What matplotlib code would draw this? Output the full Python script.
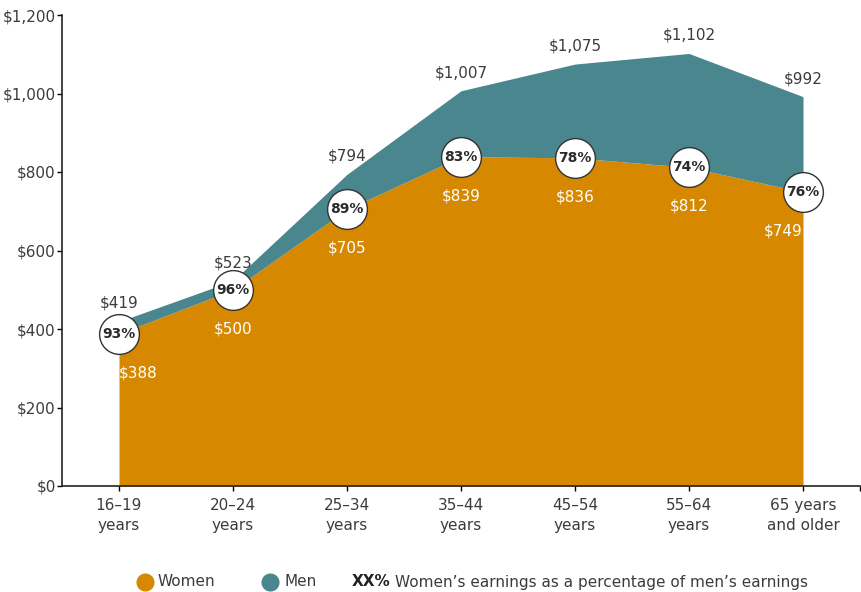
#!/usr/bin/env python

import matplotlib
matplotlib.use('Agg')
import matplotlib.pyplot as plt
import matplotlib.ticker as plticker
from matplotlib.lines import Line2D

AGE_GROUPS  = ['16–19\nyears', '20–24\nyears', '25–34\nyears', '35–44\nyears',
               '45–54\nyears', '55–64\nyears', '65 years\nand older']
WOMEN       = [388, 500, 705, 839, 836, 812, 749]
MEN         = [419, 523, 794, 1007, 1075, 1102, 992]
PERCENTS    = [93, 96, 89, 83, 78, 74, 76]
Y_TICKS     = [0, 200, 400, 600, 800, 1000, 1200]

WOMEN_COLOR = '#D68800'
MEN_COLOR   = '#4A868E'
TEXT_COLOR  = '#3c3c3c'
FONT_SIZE   = 11

plt.rcParams['font.family'] = ['DejaVu Sans']

figure = plt.figure(figsize=(8.62, 5.92), dpi=100)
ax = figure.add_axes([62 / 862, 1 - 486 / 592, 798 / 862, 471 / 592])

x = list(range(len(AGE_GROUPS)))

ax.fill_between(x, 0, WOMEN, color=WOMEN_COLOR, linewidth=0, zorder=1)
ax.fill_between(x, WOMEN, MEN, color=MEN_COLOR, linewidth=0, zorder=1)

# percentage bubbles sitting on the women's line
ax.scatter(x, WOMEN, s=820, facecolor='white', edgecolor='#333333', linewidth=1.0, zorder=3)
for xi, yi, pct in zip(x, WOMEN, PERCENTS):
    ax.text(xi, yi, '{}%'.format(pct), ha='center', va='center', fontsize=10,
            fontweight='bold', color='#2b2b2b', zorder=4)

# value labels
last = len(x) - 1
for xi, (w, m) in enumerate(zip(WOMEN, MEN)):
    ax.annotate('${:,}'.format(m), (xi, m), xytext=(0, 13), textcoords='offset points',
                ha='center', va='center', fontsize=FONT_SIZE, color=TEXT_COLOR, zorder=4)
    shift = 14 if xi == 0 else (-14 if xi == last else 0)
    ax.annotate('${:,}'.format(w), (xi, w), xytext=(shift, -28), textcoords='offset points',
                ha='center', va='center', fontsize=FONT_SIZE, color='white', zorder=4)

ax.set_xlim(-0.5, len(x) - 0.5)
ax.set_ylim(0, 1200)

ax.set_xticks(x + [len(x) - 0.5])
ax.set_xticklabels(AGE_GROUPS + [''], fontsize=FONT_SIZE, color=TEXT_COLOR, linespacing=1.4)
ax.set_yticks(Y_TICKS)
ax.yaxis.set_major_formatter(plticker.FuncFormatter(lambda v, pos: '${:,.0f}'.format(v)))
ax.tick_params(axis='y', labelsize=FONT_SIZE, labelcolor=TEXT_COLOR, length=3.5, width=1, pad=1)
ax.tick_params(axis='x', length=3.5, width=1, pad=5)

for side in ['top', 'right']:
    ax.spines[side].set_visible(False)
for side in ['left', 'bottom']:
    ax.spines[side].set_color('#222222')
    ax.spines[side].set_linewidth(1.2)

# legend row at the bottom
legY = 1 - 582 / 592
figure.lines.append(Line2D([145 / 862], [legY], marker='o', markersize=12, color=WOMEN_COLOR,
                           linestyle='none', transform=figure.transFigure))
figure.text(158 / 862, legY, 'Women', fontsize=FONT_SIZE, color=TEXT_COLOR, va='center')
figure.lines.append(Line2D([270 / 862], [legY], marker='o', markersize=12, color=MEN_COLOR,
                           linestyle='none', transform=figure.transFigure))
figure.text(284 / 862, legY, 'Men', fontsize=FONT_SIZE, color=TEXT_COLOR, va='center')
figure.text(352 / 862, legY, 'XX%', fontsize=FONT_SIZE, color='#222222', fontweight='bold',
            va='center')
figure.text(395 / 862, legY, 'Women’s earnings as a percentage of men’s earnings',
            fontsize=FONT_SIZE, color=TEXT_COLOR, va='center')

figure.savefig('out.png', dpi=100)
plt.close(figure)
